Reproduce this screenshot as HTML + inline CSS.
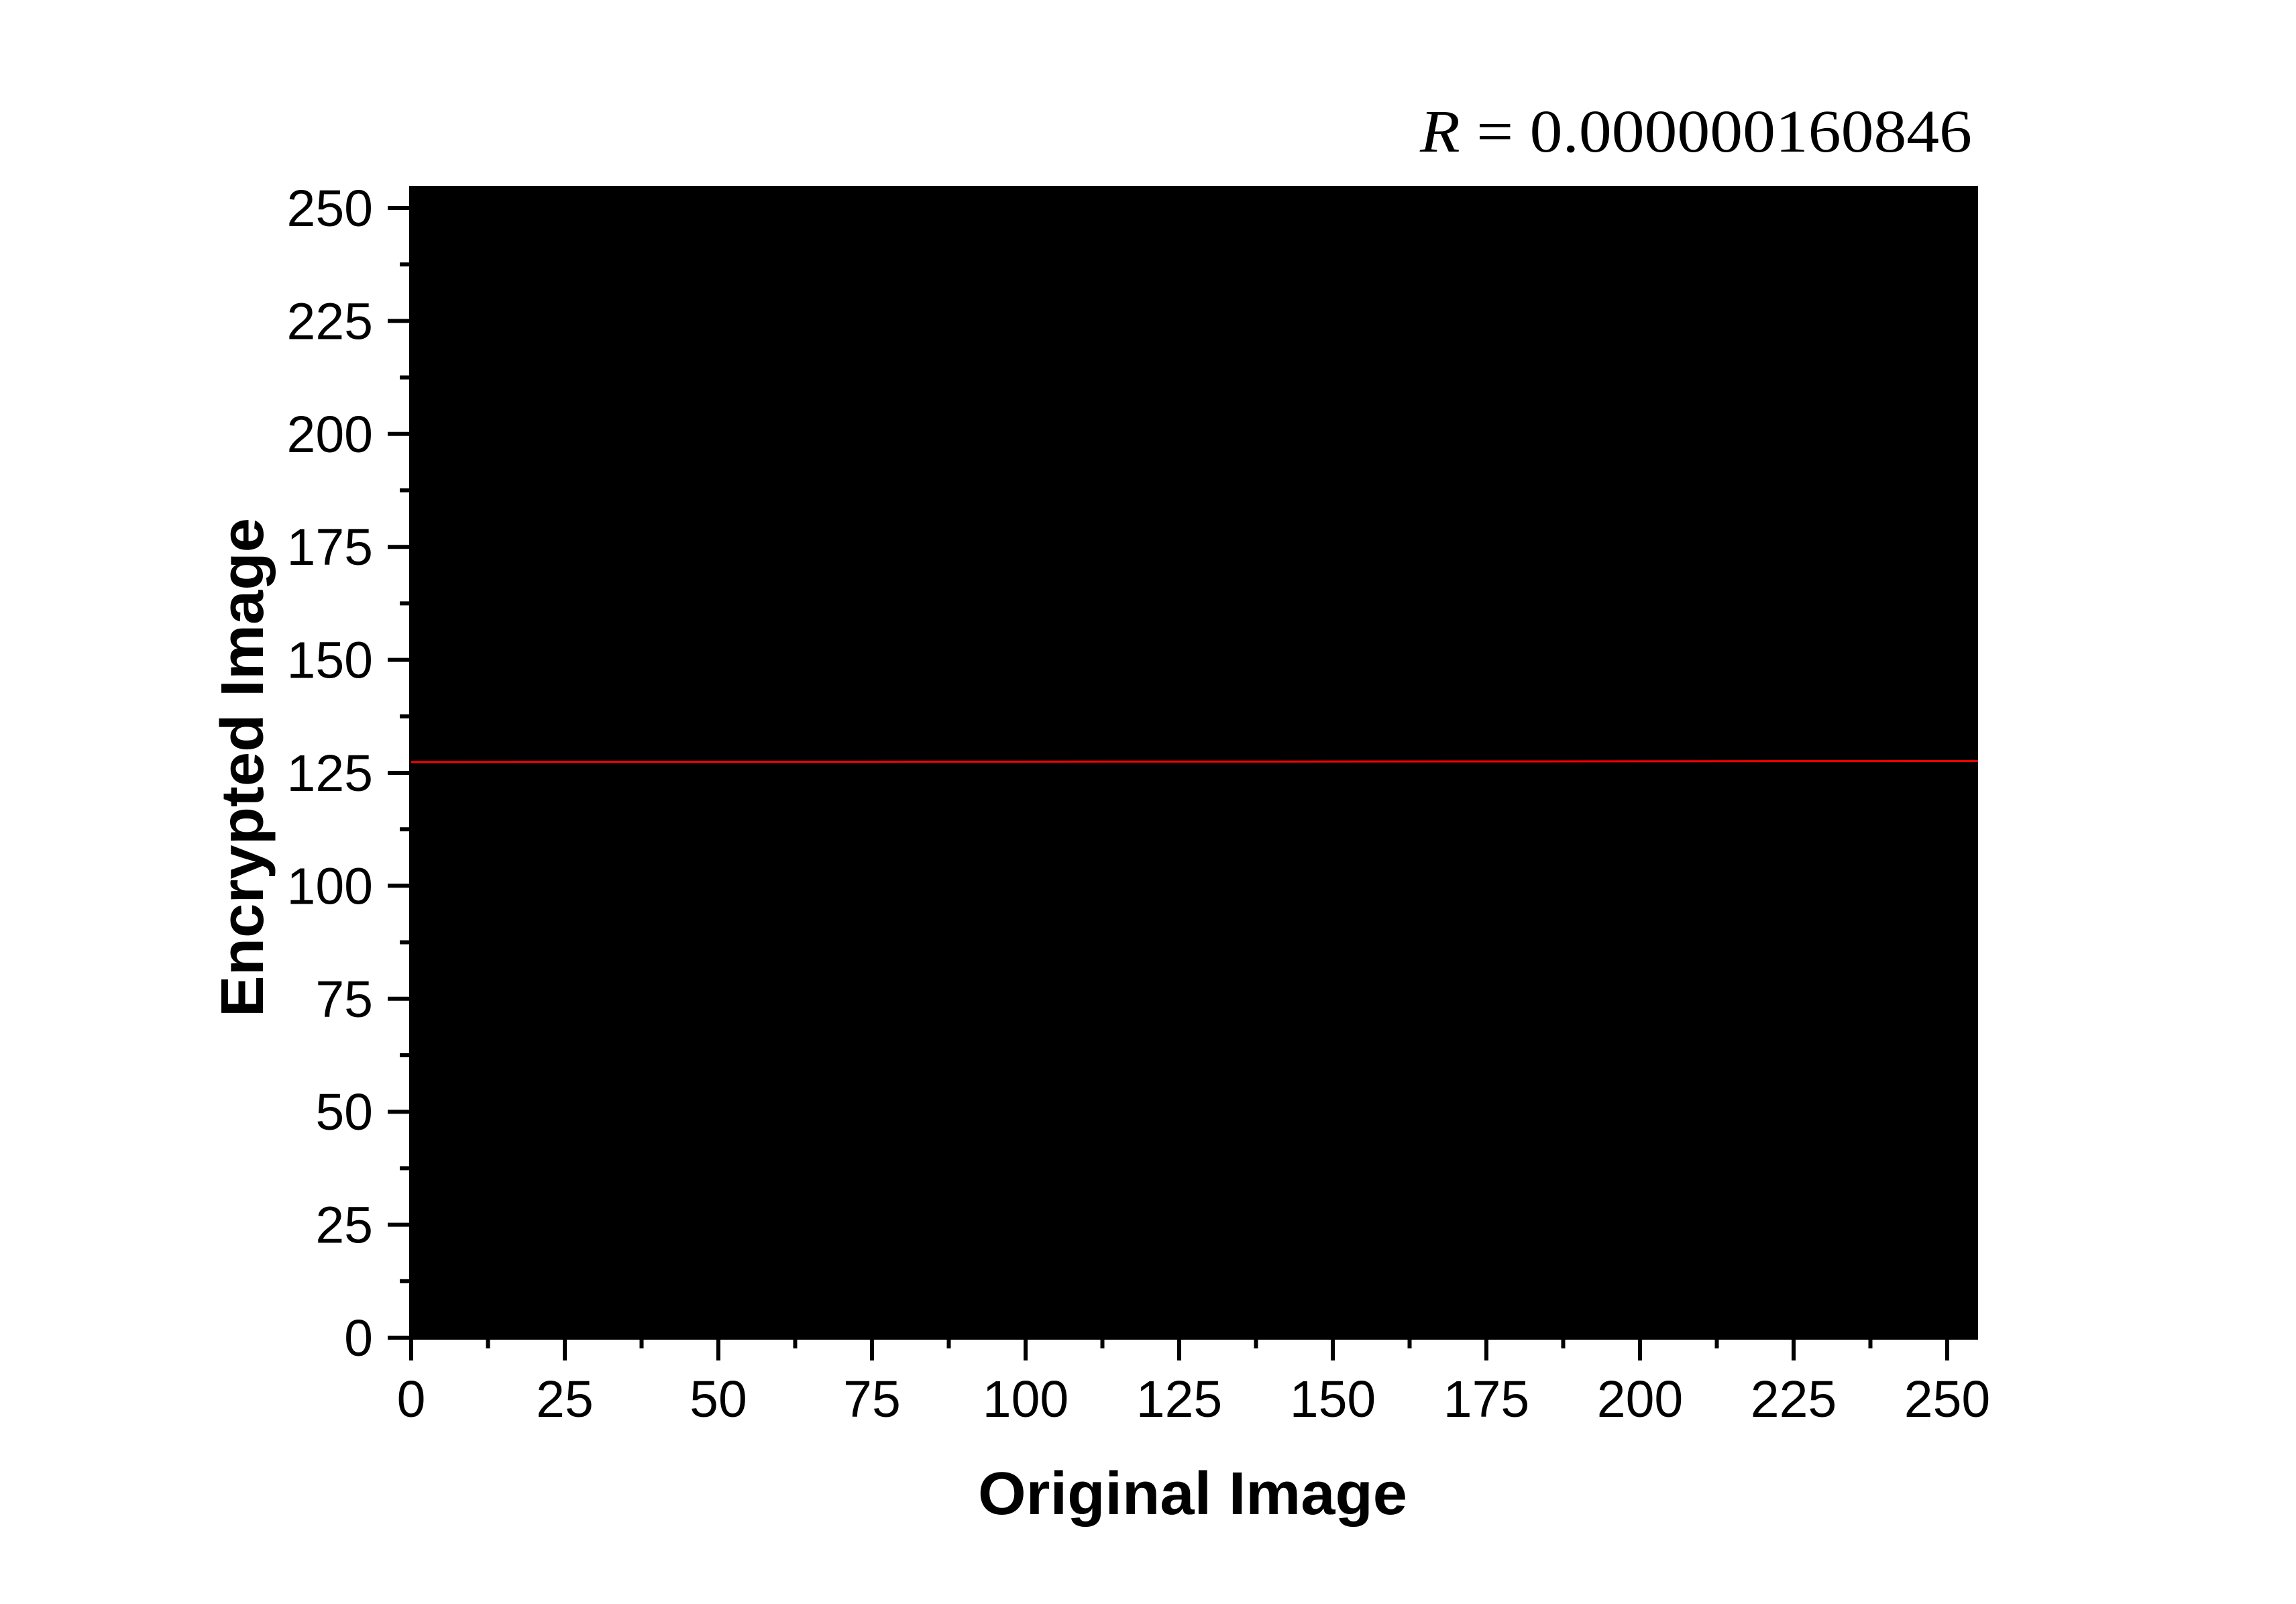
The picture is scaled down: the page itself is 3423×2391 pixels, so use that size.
<!DOCTYPE html>
<html><head><meta charset="utf-8"><style>
html,body{margin:0;padding:0;background:#fff;}
svg{display:block;}
</style></head><body>
<svg id="chart" width="3423" height="2391" viewBox="0 0 3423 2391" xmlns="http://www.w3.org/2000/svg">
<rect x="0" y="0" width="3423" height="2391" fill="#fff"/>
<rect x="610" y="277" width="2339" height="1720" fill="#000"/>
<g id="xticks"></g>
<g id="yticks"></g>
<g id="series"></g>
<text x="1778" y="2257" text-anchor="middle" font-family="Liberation Sans, sans-serif" font-weight="bold" font-size="90" textLength="640" lengthAdjust="spacingAndGlyphs">Original Image</text>
<text transform="translate(392,1144) rotate(-90)" text-anchor="middle" font-family="Liberation Sans, sans-serif" font-weight="bold" font-size="90" textLength="744" lengthAdjust="spacingAndGlyphs">Encrypted Image</text>
<text x="2117" y="226" font-family="Liberation Serif, serif" font-size="90" textLength="823" lengthAdjust="spacingAndGlyphs"><tspan font-style="italic">R</tspan> = 0.000000160846</text>
</svg>
<script>
const xTicks=[0,25,50,75,100,125,150,175,200,225,250];
const yTicks=[0,25,50,75,100,125,150,175,200,225,250];
const lineX=[0,62,155,250,255];
const lineY=[127.4,127.45,127.5,127.6,127.6];
const NS="http://www.w3.org/2000/svg";
function sx(v){return 613+v*(2903-613)/250;}
function sy(v){return 1994-v*(1994-310)/250;}
function mk(tag,attrs,parent){const e=document.createElementNS(NS,tag);for(const k in attrs)e.setAttribute(k,attrs[k]);parent.appendChild(e);return e;}
const gx=document.getElementById('xticks'),gy=document.getElementById('yticks'),gs=document.getElementById('series');
for(let v=0;v<=255;v+=12.5){
  const major=xTicks.includes(v);
  const t=mk('line',{x1:sx(v),x2:sx(v),y1:1997,y2:major?2028:2010,stroke:'#000','stroke-width':6},gx);
  
  
  const u=mk('line',{y1:sy(v),y2:sy(v),x1:610,x2:major?578:596,stroke:'#000','stroke-width':6},gy);
  
  
}
xTicks.forEach(v=>{
  const t=mk('text',{x:sx(v),y:2112,'text-anchor':'middle','font-family':'Liberation Sans, sans-serif','font-size':77},gx);
  t.textContent=v;
  
  
});
yTicks.forEach(v=>{
  const t=mk('text',{x:556,y:sy(v)+27,'text-anchor':'end','font-family':'Liberation Sans, sans-serif','font-size':77},gy);
  t.textContent=v;
  
  
});
let d='';
lineX.forEach((x,i)=>{d+=(i?'L':'M')+sx(x)+','+sy(lineY[i]);});
const p=mk('path',{d:d,stroke:'#ff0000','stroke-width':3,fill:'none'},gs);


</script>
</body></html>
